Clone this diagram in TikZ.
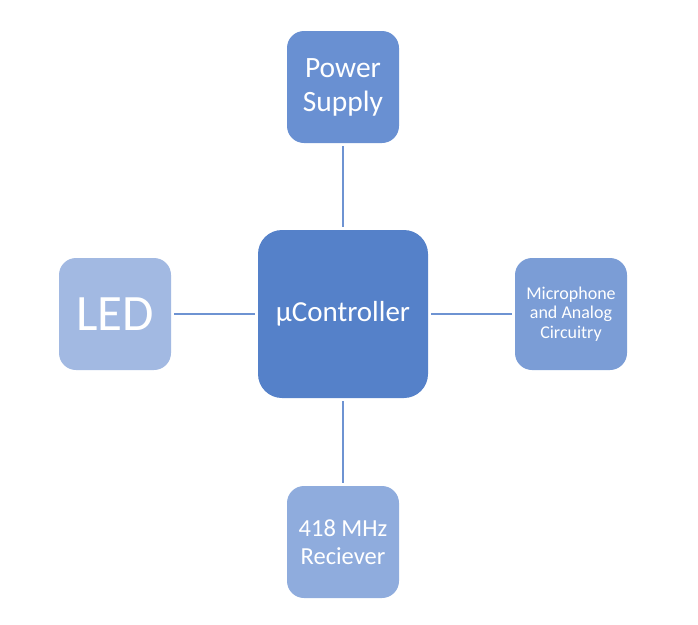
\documentclass[tikz,border=0pt]{standalone}
\usepackage{fontspec}
\setmainfont{Carlito}
\definecolor{cctrl}{HTML}{5581C9}
\definecolor{cpow}{HTML}{6990D2}
\definecolor{cmic}{HTML}{7B9DD6}
\definecolor{crec}{HTML}{8FACDD}
\definecolor{cled}{HTML}{A2B9E2}
\definecolor{cline}{HTML}{6E93D2}
\begin{document}
\begin{tikzpicture}[x=1pt,y=-1pt,
  blk/.style={rounded corners=17pt, inner sep=0pt, minimum width=112pt, minimum height=112pt, text=white, align=center},
  link/.style={draw=cline, line width=1.2pt, shorten >=3pt, shorten <=3pt}]
\useasboundingbox (0,0) rectangle (698,624);
\node[blk, fill=cctrl, rounded corners=24pt, minimum width=170pt, minimum height=168pt, font=\fontsize{29}{33}\selectfont] (ctrl) at (343,314) {µController};
\node[blk, fill=cpow, font=\fontsize{29.5}{34}\selectfont] (pow) at (343,87) {Power\\Supply};
\node[blk, fill=cled, font=\fontsize{51}{60}\selectfont] (led) at (115,314) {LED};
\node[blk, fill=cmic, font=\fontsize{18}{19.5}\selectfont] (mic) at (571,314) {Microphone\\and Analog\\Circuitry};
\node[blk, fill=crec, font=\fontsize{24.5}{28}\selectfont] (rec) at (343,542) {418 MHz\\Reciever};
\draw[link] (pow) -- (ctrl);
\draw[link] (led) -- (ctrl);
\draw[link] (mic) -- (ctrl);
\draw[link] (rec) -- (ctrl);
\end{tikzpicture}
\end{document}
